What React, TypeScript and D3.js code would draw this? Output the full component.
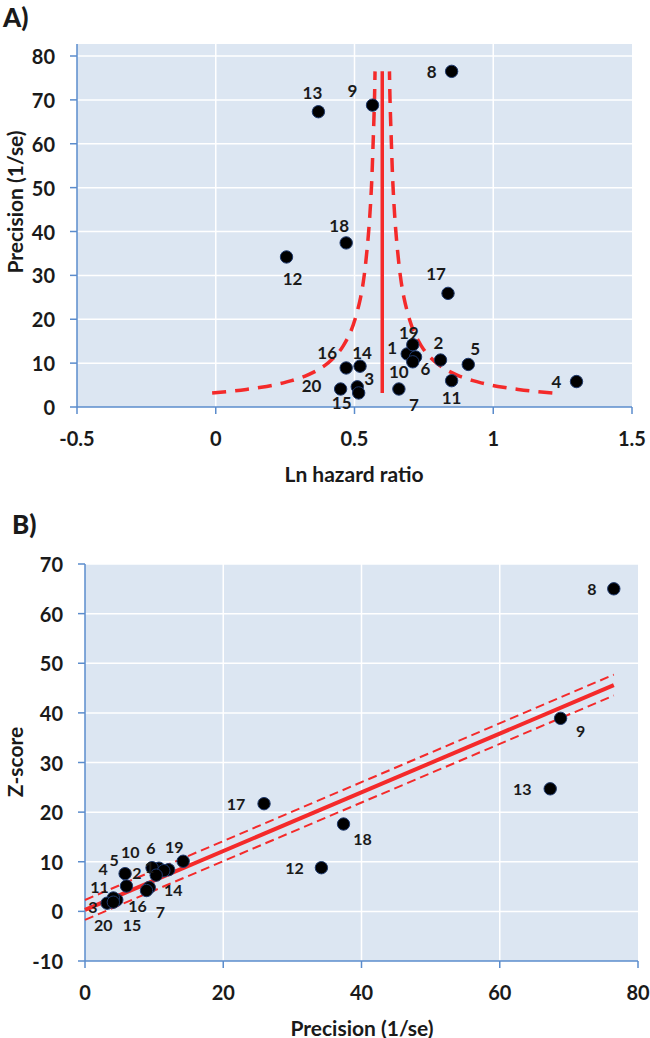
import React from "react";
import * as d3 from "d3";

// study numbers and values
const studyIds = [1, 2, 3, 4, 5, 6, 7, 8, 9, 10, 11, 12, 13, 14, 15, 16, 17, 18, 19, 20];
const lnHazardRatio = [0.69, 0.81, 0.51, 1.3, 0.91, 0.72, 0.66, 0.85, 0.565, 0.71, 0.85, 0.255, 0.37, 0.52, 0.515, 0.47, 0.837, 0.47, 0.71, 0.45];
const precision = [12.1, 10.7, 4.6, 5.8, 9.7, 11.4, 4.1, 76.5, 68.8, 10.3, 6.0, 34.2, 67.3, 9.3, 3.2, 8.9, 25.9, 37.4, 14.2, 4.1];
const zScore = [8.4, 8.7, 2.3, 7.6, 8.8, 8.2, 2.7, 65.0, 38.9, 7.3, 5.1, 8.8, 24.7, 4.8, 1.65, 4.2, 21.7, 17.6, 10.1, 1.85];

// label offsets (px) for each study in panel A and B
const labelOffsetA: [number, number][] = [
  [-15, -6], [-2, -18], [12, -8], [-20, 0], [7, -16], [10, 12], [15, 15], [-20, 0], [-20, -15], [-14, 10],
  [0, 17], [6, 22], [-6, -19], [2, -14], [-17, 10], [-19, -15], [-12, -20], [-7, -17], [-4, -12], [-29, -4],
];
const labelOffsetB: [number, number][] = [
  [-19, -3], [-22, 4], [-24, 7], [-22, -5], [-38, -8], [-13, -23], [47, 14], [-22, 0], [20, 12], [-26, -24],
  [-27, 0], [-27, 0], [-28, 0], [24, 2], [25, 21], [-9, 15], [-28, 0], [19, 14], [-9, -15], [-10, 22],
];

// funnel (panel A)
const pooledLnHR = 0.6;
const funnelPrecision = [3.2, 3.6, 4, 4.5, 5, 5.5, 6, 7, 8, 9, 10, 12, 14, 17, 20, 25, 30, 40, 50, 60, 70, 76.5];
const funnelHalfWidth = [0.613, 0.544, 0.49, 0.436, 0.392, 0.356, 0.327, 0.28, 0.245, 0.218, 0.196, 0.163, 0.14, 0.115, 0.098, 0.078, 0.065, 0.049, 0.039, 0.033, 0.028, 0.026];

// regression lines (panel B)
const regPrecision = [0, 76.5];
const regZ = [0.3, 45.6];
const regUpper = [2.3, 47.7];
const regLower = [-1.7, 43.5];

const ticksA_x = [-0.5, 0, 0.5, 1, 1.5];
const ticksA_y = [0, 10, 20, 30, 40, 50, 60, 70, 80];
const ticksB_x = [0, 20, 40, 60, 80];
const ticksB_y = [-10, 0, 10, 20, 30, 40, 50, 60, 70];

const FONT = "Lato, 'Open Sans', sans-serif";
const TXT = "#1a1a1a";
const BG = "#dce6f2";
const AXIS = "#5b8ccc";
const RED = "#f42a2a";

const App = () => {
  const xA = d3.scaleLinear().domain([-0.5, 1.5]).range([77, 632]);
  const yA = d3.scaleLinear().domain([0, 80]).range([407, 56]);
  const xB = d3.scaleLinear().domain([0, 80]).range([85, 638]);
  const yB = d3.scaleLinear().domain([-10, 70]).range([961, 564]);

  const funnelLeft = d3
    .line<number>()
    .x((p, i) => xA(pooledLnHR - funnelHalfWidth[i]))
    .y((p) => yA(p))
    .curve(d3.curveCatmullRom)(funnelPrecision);
  const funnelRight = d3
    .line<number>()
    .x((p, i) => xA(pooledLnHR + funnelHalfWidth[i]))
    .y((p) => yA(p))
    .curve(d3.curveCatmullRom)(funnelPrecision);

  const regLine = (vals: number[]) =>
    d3
      .line<number>()
      .x((p) => xB(p))
      .y((p, i) => yB(vals[i]))(regPrecision);

  const precMin = d3.min(precision)!;
  const precMax = d3.max(precision)!;

  return (
    <svg width={650} height={1038} style={{ position: "absolute", left: 0, top: 0, fontFamily: FONT }}>
      {/* ---------- panel A ---------- */}
      <text x={3} y={27} fontSize={26} fontWeight={900} fill={TXT}>A)</text>
      <rect x={xA(-0.5)} y={yA(80) - 12} width={xA(1.5) - xA(-0.5)} height={yA(0) - yA(80) + 12} fill={BG} />
      {ticksA_y.slice(1).map((t) => (
        <line key={"gay" + t} x1={xA(-0.5)} x2={xA(1.5)} y1={yA(t)} y2={yA(t)} stroke="#fff" strokeWidth={1.5} />
      ))}
      {ticksA_x.slice(1, -1).map((t) => (
        <line key={"gax" + t} x1={xA(t)} x2={xA(t)} y1={yA(80) - 12} y2={yA(0)} stroke="#fff" strokeWidth={1.5} />
      ))}
      <line x1={xA(-0.5)} x2={xA(-0.5)} y1={yA(80) - 12} y2={yA(0)} stroke={AXIS} strokeWidth={1.5} />
      <line x1={xA(-0.5)} x2={xA(1.5)} y1={yA(0)} y2={yA(0)} stroke={AXIS} strokeWidth={1.5} />
      {ticksA_y.map((t) => (
        <g key={"tay" + t}>
          <line x1={xA(-0.5) - 7} x2={xA(-0.5)} y1={yA(t)} y2={yA(t)} stroke={AXIS} strokeWidth={1.5} />
          <text x={55} y={yA(t)} textAnchor="end" dominantBaseline="central" fontSize={20} fontWeight={700} fill={TXT}>{t}</text>
        </g>
      ))}
      {ticksA_x.map((t) => (
        <g key={"tax" + t}>
          <line x1={xA(t)} x2={xA(t)} y1={yA(0)} y2={yA(0) + 7} stroke={AXIS} strokeWidth={1.5} />
          <text x={xA(t)} y={438} textAnchor="middle" dominantBaseline="central" fontSize={20} fontWeight={700} fill={TXT}>{t}</text>
        </g>
      ))}
      <text x={354} y={473} textAnchor="middle" dominantBaseline="central" fontSize={21} fontWeight={700} fill={TXT}>Ln hazard ratio</text>
      <text transform={`translate(14,${202}) rotate(-90)`} textAnchor="middle" dominantBaseline="central" fontSize={21} fontWeight={700} fill={TXT}>Precision (1/se)</text>

      <path d={funnelLeft!} fill="none" stroke={RED} strokeWidth={3.5} strokeDasharray="14 9" />
      <path d={funnelRight!} fill="none" stroke={RED} strokeWidth={3.5} strokeDasharray="14 9" />
      <line x1={xA(pooledLnHR)} x2={xA(pooledLnHR)} y1={yA(precMin)} y2={yA(precMax)} stroke={RED} strokeWidth={3.5} />

      {studyIds.map((id, i) => (
        <circle key={"da" + id} cx={xA(lnHazardRatio[i])} cy={yA(precision[i])} r={6.2} fill="#000" stroke="#1f3a6e" strokeWidth={1} />
      ))}
      {studyIds.map((id, i) => (
        <text key={"la" + id} x={xA(lnHazardRatio[i]) + labelOffsetA[i][0]} y={yA(precision[i]) + labelOffsetA[i][1]}
          textAnchor="middle" dominantBaseline="central" fontSize={17} fontWeight={700} fill={TXT}>{id}</text>
      ))}

      {/* ---------- panel B ---------- */}
      <text x={12} y={534} fontSize={26} fontWeight={900} fill={TXT}>B)</text>
      <rect x={xB(0)} y={yB(70)} width={xB(80) - xB(0)} height={yB(-10) - yB(70)} fill={BG} />
      {ticksB_y.slice(1).map((t) => (
        <line key={"gby" + t} x1={xB(0)} x2={xB(80)} y1={yB(t)} y2={yB(t)} stroke="#fff" strokeWidth={1.5} />
      ))}
      {ticksB_x.slice(1, -1).map((t) => (
        <line key={"gbx" + t} x1={xB(t)} x2={xB(t)} y1={yB(70)} y2={yB(-10)} stroke="#fff" strokeWidth={1.5} />
      ))}
      <line x1={xB(0)} x2={xB(0)} y1={yB(70)} y2={yB(-10)} stroke={AXIS} strokeWidth={1.5} />
      <line x1={xB(0)} x2={xB(80)} y1={yB(-10)} y2={yB(-10)} stroke={AXIS} strokeWidth={1.5} />
      {ticksB_y.map((t) => (
        <g key={"tby" + t}>
          <line x1={xB(0) - 7} x2={xB(0)} y1={yB(t)} y2={yB(t)} stroke={AXIS} strokeWidth={1.5} />
          <text x={63} y={yB(t)} textAnchor="end" dominantBaseline="central" fontSize={20} fontWeight={700} fill={TXT}>{t}</text>
        </g>
      ))}
      {ticksB_x.map((t) => (
        <g key={"tbx" + t}>
          <line x1={xB(t)} x2={xB(t)} y1={yB(-10)} y2={yB(-10) + 7} stroke={AXIS} strokeWidth={1.5} />
          <text x={xB(t)} y={992} textAnchor="middle" dominantBaseline="central" fontSize={20} fontWeight={700} fill={TXT}>{t}</text>
        </g>
      ))}
      <text x={362} y={1027} textAnchor="middle" dominantBaseline="central" fontSize={21} fontWeight={700} fill={TXT}>Precision (1/se)</text>
      <text transform={`translate(14,${762}) rotate(-90)`} textAnchor="middle" dominantBaseline="central" fontSize={21} fontWeight={700} fill={TXT}>Z-score</text>

      <path d={regLine(regUpper)!} fill="none" stroke={RED} strokeWidth={2} strokeDasharray="9 5" />
      <path d={regLine(regLower)!} fill="none" stroke={RED} strokeWidth={2} strokeDasharray="9 5" />
      <path d={regLine(regZ)!} fill="none" stroke={RED} strokeWidth={4} />

      {studyIds.map((id, i) => (
        <circle key={"db" + id} cx={xB(precision[i])} cy={yB(zScore[i])} r={6.2} fill="#000" stroke="#1f3a6e" strokeWidth={1} />
      ))}
      {studyIds.map((id, i) => (
        <text key={"lb" + id} x={xB(precision[i]) + labelOffsetB[i][0]} y={yB(zScore[i]) + labelOffsetB[i][1]}
          textAnchor="middle" dominantBaseline="central" fontSize={16} fontWeight={700} fill={TXT}>{id}</text>
      ))}
    </svg>
  );
};

export default App;
